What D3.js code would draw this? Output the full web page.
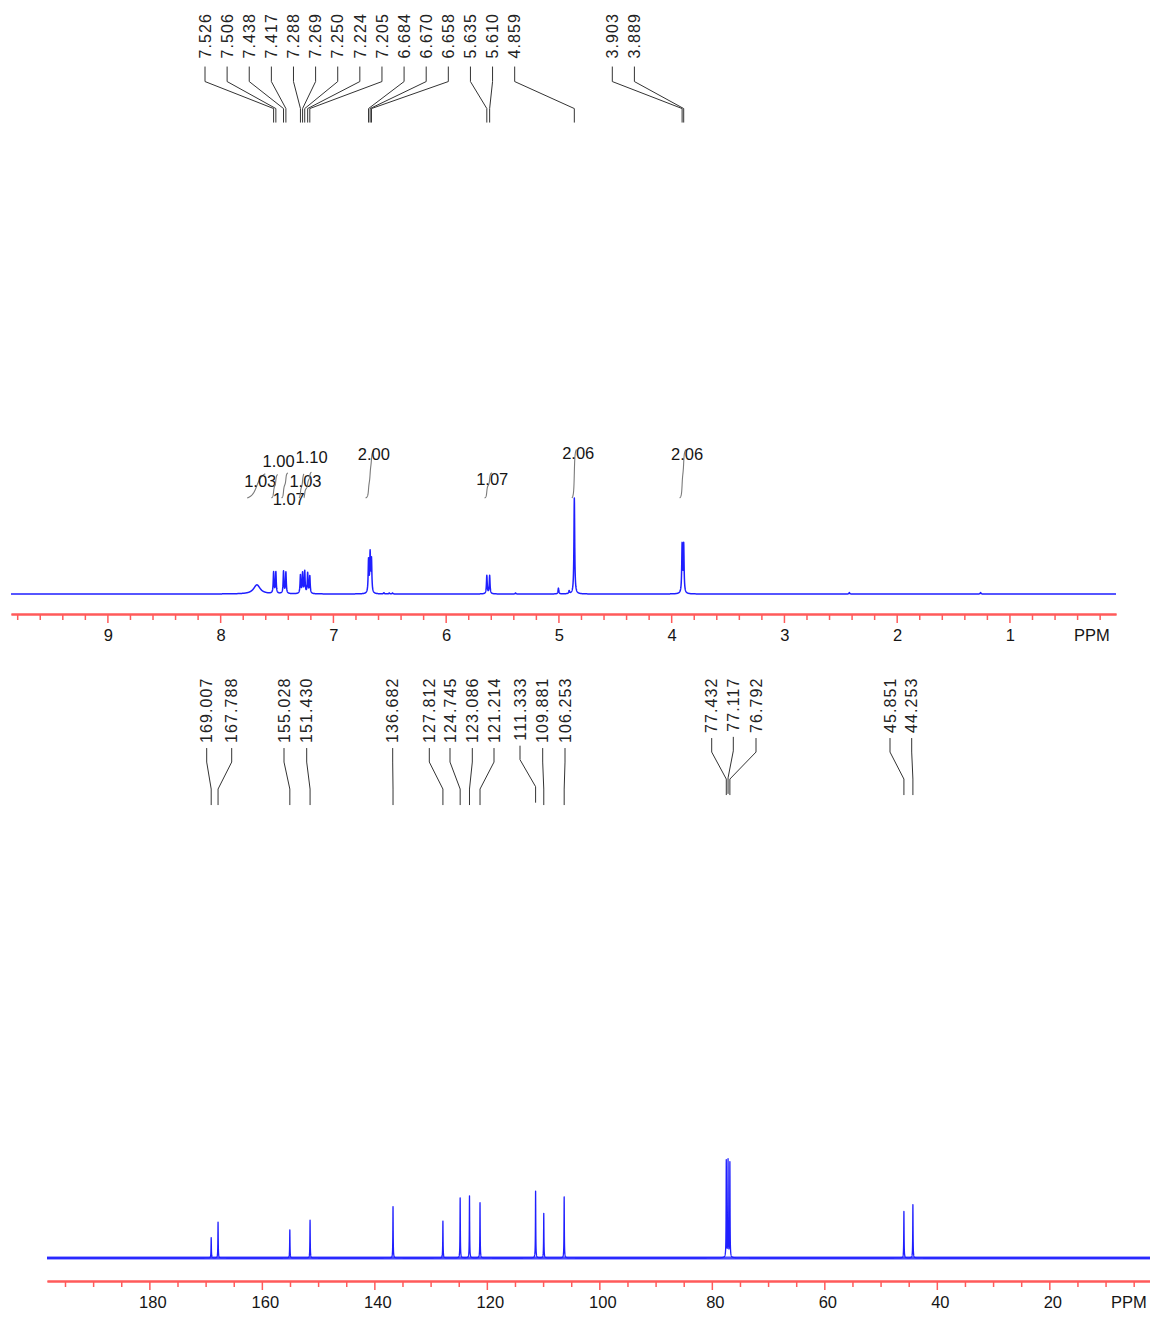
<!DOCTYPE html>
<html>
<head>
<meta charset="utf-8">
<script src="https://cdn.jsdelivr.net/npm/d3@7"></script>
<style>
  body { margin: 0; background: #fff; }
  svg { display: block; }
</style>
</head>
<body>
<svg id="chart" width="1150" height="1330"></svg>
<script>
// ---------------- 1H NMR (ppm) ----------------
// picked peaks, written above the spectrum
const hPickLabels = ["7.526","7.506","7.438","7.417","7.288","7.269","7.250","7.224","7.205",
                     "6.684","6.670","6.658","5.635","5.610","4.859","3.903","3.889"];
// individual lines that make up the trace: position (ppm), height (rel.), half-width (ppm)
const hLinePpm    = [7.674, 7.526, 7.506, 7.438, 7.417, 7.288, 7.269, 7.250, 7.224, 7.205,
                     6.684, 6.670, 6.658, 6.548, 6.500, 6.472, 5.635, 5.610, 5.380,
                     5.000, 4.905, 4.859, 3.903, 3.889, 2.420, 1.256];
const hLineHeight = [9.5, 22, 22, 23, 22, 19, 21, 23, 21, 18,
                     34, 40, 34, 1.2, 1.0, 1.0, 19, 19, 1.0,
                     6, 3, 100, 50, 50, 1.5, 1.5];
const hLineWidth  = [0.035, 0.004, 0.004, 0.004, 0.004, 0.004, 0.004, 0.004, 0.004, 0.004,
                     0.004, 0.004, 0.004, 0.004, 0.004, 0.004, 0.004, 0.004, 0.004,
                     0.004, 0.004, 0.004, 0.004, 0.004, 0.004, 0.004];
// integrals: value and the ppm window each one covers
const hIntegralText = ["1.03","1.00","1.07","1.03","1.10","2.00","1.07","2.06","2.06"];
const hIntegralFrom = [7.76, 7.545, 7.455, 7.300, 7.258, 6.710, 5.655, 4.880, 3.925];
const hIntegralTo   = [7.60, 7.490, 7.400, 7.258, 7.190, 6.635, 5.590, 4.840, 3.865];
const hTicksMajor = [9, 8, 7, 6, 5, 4, 3, 2, 1];

// ---------------- 13C NMR ----------------
const cPickLabels = ["169.007","167.788","155.028","151.430","136.682","127.812","124.745",
                     "123.086","121.214","111.333","109.881","106.253","77.432","77.117",
                     "76.792","45.851","44.253"];
const cLinePpm    = [169.007, 167.788, 155.028, 151.430, 136.682, 127.812, 124.745,
                     123.086, 121.214, 111.333, 109.881, 106.253, 77.432, 77.117,
                     76.792, 45.851, 44.253];
const cLineHeight = [21, 37, 29, 39, 53, 38, 62, 64, 57, 69, 46, 63, 100, 100, 98, 48, 55];
const cTicksMajor = [180, 160, 140, 120, 100, 80, 60, 40, 20];

// ---------------- layout ----------------
const FONT = "'Liberation Sans', Arial, Helvetica, sans-serif";
const INK = "#151515";
const TRACE = "#1f1fff";
const AXIS = "#ff5a5a";

// label slots for the peak-pick annotations (centre x of each rotated label)
const hPickSlotX = hPickLabels.map((d, i) => i < 15 ? 205 + i * 22.12 : 612.3 + (i - 15) * 22.1);
const cPickSlotX = [206.7, 231.7, 284, 306.7, 392.7, 429.3, 450, 472.3, 494, 520, 542.7, 565,
                    711.7, 733.3, 756, 890, 911.7];
// vertical stagger of the integral values
const hIntegralDy = [13, -8, 32, 13, -9, 9, 12, 9, 10];

const svg = d3.select("#chart");

const xH = d3.scaleLinear().domain([9.855, 0.055]).range([11, 1116]);
const yH = d3.scaleLinear().domain([0, 100]).range([594, 498]);
const xC = d3.scaleLinear().domain([198.2, 2.1]).range([47, 1150]);
const yC = d3.scaleLinear().domain([0, 100]).range([1258, 1161]);

// sum of Lorentzian lines at a given ppm
function intensity(ppm, pos, hgt, wid) {
  let s = 0;
  for (let i = 0; i < pos.length; i++) {
    const d = (ppm - pos[i]) / wid[i];
    s += hgt[i] / (1 + d * d);
  }
  return s;
}

// ppm sample grid: fine regular steps plus the exact line centres
function grid(domain, n, pos) {
  const pts = d3.range(n + 1).map(i => domain[0] + (domain[1] - domain[0]) * i / n);
  pos.forEach(p => { pts.push(p); });
  return pts.sort((a, b) => b - a);
}

// ---------- 1H trace ----------
const hGrid = grid(xH.domain(), 9000, hLinePpm);
const hTrace = hGrid.map(p => [p, intensity(p, hLinePpm, hLineHeight, hLineWidth)]);
svg.append("path")
  .attr("d", d3.line().x(d => xH(d[0])).y(d => yH(d[1]))(hTrace))
  .attr("fill", "none").attr("stroke", TRACE).attr("stroke-width", 1.5)
  .attr("stroke-linejoin", "round");

// ---------- 1H integrals ----------
const integralBase = 498, pxPerUnit = 23.5;
hIntegralText.forEach((txt, k) => {
  const a = hIntegralFrom[k], b = hIntegralTo[k];
  const pts = d3.range(121).map(i => a + (b - a) * i / 120);
  let cum = 0;
  const acc = pts.map((p, i) => {
    if (i > 0) cum += intensity(p, hLinePpm, hLineHeight, hLineWidth);
    return [p, cum];
  });
  const total = cum || 1;
  const rise = (+txt) * pxPerUnit;
  svg.append("path")
    .attr("d", d3.line().x(d => xH(d[0])).y(d => integralBase - rise * d[1] / total)(acc))
    .attr("fill", "none").attr("stroke", "#7a7a7a").attr("stroke-width", 1.1);
  const cx = xH((a + b) / 2);
  svg.append("text")
    .attr("x", cx + 4).attr("y", integralBase - rise + hIntegralDy[k])
    .attr("text-anchor", "middle")
    .style("font-family", FONT).style("font-size", "16.5px").style("fill", INK)
    .text(txt);
});

// ---------- 13C trace ----------
const cWidth = cLinePpm.map(() => 0.035);
const cGrid = grid(xC.domain(), 16000, cLinePpm);
const cTrace = cGrid.map(p => [p, intensity(p, cLinePpm, cLineHeight, cWidth)]);
// noise floor of the carbon baseline
svg.append("line")
  .attr("x1", xC.range()[0]).attr("x2", xC.range()[1])
  .attr("y1", yC(0)).attr("y2", yC(0))
  .attr("stroke", TRACE).attr("stroke-width", 3).attr("opacity", 0.8);
svg.append("path")
  .attr("d", d3.line().x(d => xC(d[0])).y(d => yC(d[1]))(cTrace))
  .attr("fill", "none").attr("stroke", TRACE).attr("stroke-width", 1.3)
  .attr("stroke-linejoin", "round");

// ---------- axes ----------
function drawAxis(x, yPos, majors, minorStep, labelDx) {
  const g = svg.append("g").attr("transform", `translate(0,${yPos})`);
  const [d0, d1] = x.domain();
  const lo = Math.min(d0, d1), hi = Math.max(d0, d1);
  const minors = d3.range(Math.ceil(lo / minorStep) * minorStep, hi, minorStep)
    .map(v => +v.toFixed(4))
    .filter(v => !majors.some(m => Math.abs(m - v) < 1e-6));
  const minorAxis = d3.axisBottom(x).tickValues(minors).tickSize(6).tickSizeOuter(0).tickFormat("");
  const majorAxis = d3.axisBottom(x).tickValues(majors).tickSize(9).tickSizeOuter(0)
    .tickPadding(6).tickFormat(d3.format("d"));
  g.append("g").call(minorAxis);
  const gm = g.append("g").call(majorAxis);
  g.selectAll(".domain").attr("stroke", AXIS).attr("stroke-width", 2);
  g.selectAll(".tick line").attr("stroke", AXIS).attr("stroke-width", 1.5);
  gm.selectAll(".tick text")
    .attr("dx", labelDx)
    .style("font-family", FONT).style("font-size", "16.5px").style("fill", INK);
  return g;
}
const gh = drawAxis(xH, 614, hTicksMajor, 0.2, 0.5);
gh.append("text").attr("x", 1092).attr("y", 27).attr("text-anchor", "middle")
  .style("font-family", FONT).style("font-size", "16.5px").style("fill", INK).text("PPM");
const gc = drawAxis(xC, 1281, cTicksMajor, 5, 3);
gc.append("text").attr("x", 1129).attr("y", 27).attr("text-anchor", "middle")
  .style("font-family", FONT).style("font-size", "16.5px").style("fill", INK).text("PPM");

// ---------- peak-pick annotations ----------
function drawPicks(labels, slots, x, cfg) {
  const g = svg.append("g");
  labels.forEach((lab, i) => {
    const t = g.append("text")
      .attr("transform", `translate(${slots[i] + 5.7},${cfg.top}) rotate(-90)`)
      .attr("text-anchor", "end")
      .style("font-family", FONT).style("font-size", "16px")
      .style("letter-spacing", "1.1px").style("fill", "#222")
      .text(lab);
    const len = t.node().getComputedTextLength();
    const y0 = cfg.top + len + cfg.gap;
    const y1 = y0 + cfg.s1, y2 = y1 + cfg.s2, y3 = y2 + cfg.s3;
    const px = x(+lab);
    g.append("path")
      .attr("d", `M${slots[i]},${y0}V${y1}L${px},${y2}V${y3}`)
      .attr("fill", "none").attr("stroke", "#333").attr("stroke-width", 1);
  });
}
drawPicks(hPickLabels, hPickSlotX, xH, { top: 13, gap: 8, s1: 15, s2: 27, s3: 14 });
drawPicks(cPickLabels, cPickSlotX, xC, { top: 677.5, gap: 5, s1: 14, s2: 27, s3: 16 });
</script>
</body>
</html>
